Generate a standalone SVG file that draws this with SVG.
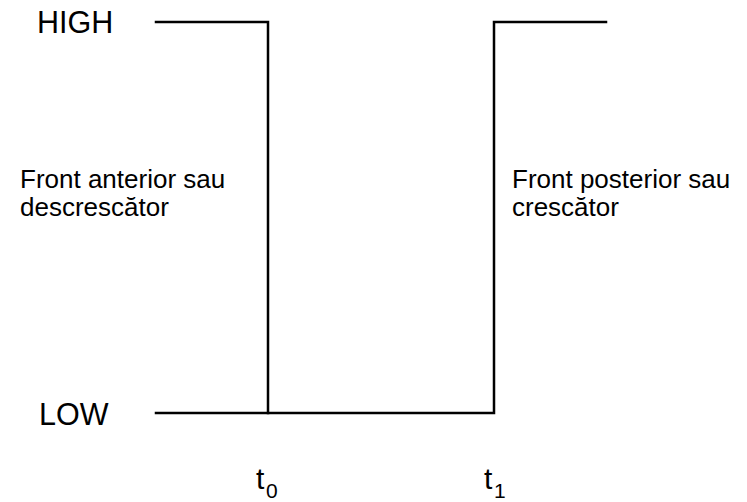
<svg xmlns="http://www.w3.org/2000/svg" width="747" height="502" viewBox="0 0 747 502">
  <style>
    .lbl { font-family: "Liberation Sans", Arial, sans-serif; fill: #000; }
    .lvl { font-size: 30.5px; }
    .txt { font-size: 26px; }
    .tm { font-size: 30px; }
    .sub { font-size: 21px; }
    .wave { fill: none; stroke: #000; stroke-width: 2.5; stroke-linejoin: miter; stroke-linecap: square; }
  </style>
  <rect width="747" height="502" fill="#fff"/>

  <!-- pulse waveform -->
  <g id="connectors">
    <path class="wave" d="M156 22 H268 V413"/>
    <path class="wave" d="M156 413 H494 V22 H606"/>
  </g>

  <g id="level-high"><text class="lbl lvl" x="37" y="33">HIGH</text></g>
  <g id="level-low"><text class="lbl lvl" x="39" y="425">LOW</text></g>

  <g id="front-falling">
    <text class="lbl txt" x="20" y="188">Front anterior sau</text>
    <text class="lbl txt" x="20" y="216">descrescător</text>
  </g>
  <g id="front-rising">
    <text class="lbl txt" x="512" y="188">Front posterior sau</text>
    <text class="lbl txt" x="512" y="216">crescător</text>
  </g>

  <!-- time markers with subscripts -->
  <g id="t0">
    <text class="lbl tm" x="256" y="489">t</text>
    <text class="lbl sub" x="266" y="498">0</text>
  </g>
  <g id="t1">
    <text class="lbl tm" x="484" y="489">t</text>
    <text class="lbl sub" x="494" y="498">1</text>
  </g>
</svg>
